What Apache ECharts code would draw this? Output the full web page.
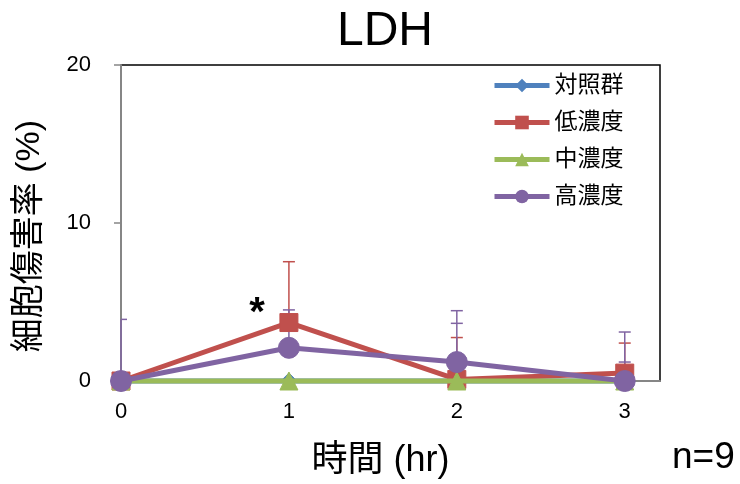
<!DOCTYPE html>
<html>
<head>
<meta charset="utf-8">
<script src="https://cdn.jsdelivr.net/npm/echarts@6/dist/echarts.min.js"></script>
<style>
  html, body { margin: 0; padding: 0; background: #fff; }
  #chart { width: 740px; height: 484px; }
</style>
</head>
<body>
<div id="chart"></div>
<script>
// Time points (hr)
const hours = [0, 1, 2, 3];
const xTickLabels = ['0', '1', '2', '3'];
const yTickValues = [0, 10, 20];

// Mean cytotoxicity (%) per group
const seriesNames = ['対照群', '低濃度', '中濃度', '高濃度'];
const controlMean = [0, 0, 0, 0];
const lowMean = [0, 3.7, 0.1, 0.5];
const midMean = [0, 0, 0, 0];
const highMean = [0, 2.1, 1.2, 0];

// Upper end of error bars (%)
const lowErrTop = [null, 7.55, 2.75, 2.4];
const highErrTop = [3.9, 4.5, 4.45, 3.1];
// Additional caps drawn on the high-dose error bars
const highErrExtraCap = [null, null, 3.65, 1.2];

const colors = {
  control: '#4F81BD',
  low: '#C0504D',
  mid: '#9BBB59',
  high: '#8064A2'
};

const latin = '"Liberation Sans", Arial, sans-serif';
const cjk = '"Liberation Sans", "Noto Sans CJK JP", sans-serif';

function pairs(ys) {
  return hours.map((h, i) => [h, ys[i]]);
}

function errData(mean, top, extra) {
  const out = [];
  hours.forEach((h, i) => {
    if (top[i] == null) return;
    out.push([h, mean[i], top[i], extra && extra[i] != null ? extra[i] : NaN]);
  });
  return out;
}

function errorSeries(data, color, z) {
  return {
    type: 'custom',
    z: z,
    clip: false,
    silent: true,
    data: data,
    renderItem: function (params, api) {
      const x = api.value(0);
      const base = api.coord([x, api.value(1)]);
      const top = api.coord([x, api.value(2)]);
      const half = 6;
      // caps stay inside the plotting area
      const left = Math.max(params.coordSys.x, top[0] - half);
      const style = { stroke: color, lineWidth: 1.5 };
      const children = [
        { type: 'line', shape: { x1: base[0], y1: base[1], x2: top[0], y2: top[1] }, style: style },
        { type: 'line', shape: { x1: left, y1: top[1], x2: top[0] + half, y2: top[1] }, style: style }
      ];
      const extra = api.value(3);
      if (!isNaN(extra)) {
        const c = api.coord([x, extra]);
        children.push({ type: 'line', shape: { x1: Math.max(params.coordSys.x, c[0] - half), y1: c[1], x2: c[0] + half, y2: c[1] }, style: style });
      }
      return { type: 'group', children: children };
    }
  };
}

function lineSeries(name, data, color, symbol, size, z) {
  return {
    name: name,
    type: 'line',
    z: z,
    data: pairs(data),
    symbol: symbol,
    symbolSize: size,
    showSymbol: true,
    clip: false,
    lineStyle: { color: color, width: 5 },
    itemStyle: { color: color, borderColor: color },
    emphasis: { disabled: true },
    animation: false
  };
}

const chart = echarts.init(document.getElementById('chart'), null, { renderer: 'canvas' });

chart.setOption({
  animation: false,
  backgroundColor: '#ffffff',
  title: {
    text: 'LDH',
    left: 380,
    top: 3,
    textAlign: 'center',
    textStyle: { fontFamily: latin, fontSize: 48, fontWeight: 'normal', color: '#000' }
  },
  grid: {
    left: 121, top: 65, right: 80, bottom: 100,
    show: true, borderColor: '#000', borderWidth: 1.5, backgroundColor: 'transparent'
  },
  legend: {
    orient: 'vertical',
    left: 492,
    top: 74,
    padding: 0,
    itemWidth: 55,
    itemHeight: 17,
    itemGap: 14,
    data: seriesNames,
    lineStyle: { width: 5 },
    textStyle: { fontFamily: cjk, fontSize: 23, color: '#000' }
  },
  xAxis: {
    type: 'value',
    min: 0,
    max: 3.21,
    interval: 1,
    axisLine: { show: true, onZero: false, lineStyle: { color: '#868686', width: 2 } },
    axisTick: { show: false },
    splitLine: { show: false },
    axisLabel: {
      margin: 20,
      fontFamily: latin, fontSize: 22, color: '#000',
      showMaxLabel: false,
      formatter: function (v) {
        const i = hours.indexOf(v);
        return i >= 0 ? xTickLabels[i] : '';
      }
    },
    name: '時間 (hr)',
    nameLocation: 'middle',
    nameGap: 62,
    nameTextStyle: { fontFamily: cjk, fontSize: 36, color: '#000', padding: [0, 20, 0, 0] }
  },
  yAxis: {
    type: 'value',
    min: yTickValues[0],
    max: yTickValues[yTickValues.length - 1],
    interval: 10,
    axisLine: { show: true, lineStyle: { color: '#868686', width: 2 } },
    axisTick: { show: true, inside: false, length: 7, lineStyle: { color: '#868686', width: 1.5 } },
    splitLine: { show: false },
    axisLabel: { margin: 30, fontFamily: latin, fontSize: 22, color: '#000' },
    name: '細胞傷害率 (%)',
    nameLocation: 'middle',
    nameGap: 74,
    nameRotate: 90,
    nameTextStyle: { fontFamily: cjk, fontSize: 34, color: '#000', padding: [0, 26, 0, 0] }
  },
  graphic: [
    {
      type: 'text',
      style: {
        x: 672, y: 458, text: 'n=9',
        font: '37px "Liberation Sans", Arial, sans-serif', fill: '#000',
        textAlign: 'left', textVerticalAlign: 'middle'
      }
    },
    {
      type: 'text',
      style: {
        x: 257, y: 314, text: '*',
        font: 'bold 40px "Liberation Sans", Arial, sans-serif', fill: '#000',
        textAlign: 'center', textVerticalAlign: 'middle'
      }
    }
  ],
  series: [
    errorSeries(errData(lowMean, lowErrTop), colors.low, 3),
    errorSeries(errData(highMean, highErrTop, highErrExtraCap), colors.high, 3),
    lineSeries(seriesNames[0], controlMean, colors.control, 'diamond', 16, 4),
    lineSeries(seriesNames[1], lowMean, colors.low, 'rect', 18, 5),
    lineSeries(seriesNames[2], midMean, colors.mid, 'triangle', 18, 6),
    lineSeries(seriesNames[3], highMean, colors.high, 'circle', 21, 7)
  ]
});
</script>
</body>
</html>
